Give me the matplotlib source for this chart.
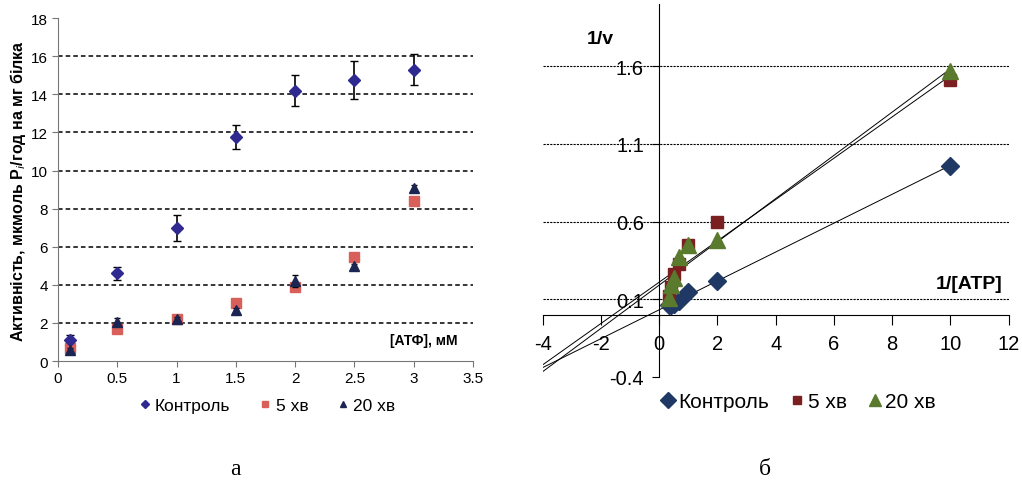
# -*- coding: utf-8 -*-
"""Активність АТФази: а - залежність від [АТФ], б - Лайнуївер-Берк"""
import numpy as np
import matplotlib
matplotlib.use('Agg')
import matplotlib.pyplot as plt
from matplotlib.lines import Line2D

plt.rcParams['font.family'] = ['Liberation Sans', 'DejaVu Sans']
plt.rcParams['axes.unicode_minus'] = False

# ---- а: активність від концентрації АТФ ----
atp = [0.1, 0.5, 1, 1.5, 2, 2.5, 3]
ctrl = [1.1, 4.6, 7.0, 11.75, 14.2, 14.75, 15.3]
ctrl_err = [0.25, 0.35, 0.68, 0.62, 0.8, 1.0, 0.8]
min5 = [0.7, 1.7, 2.2, 3.05, 3.9, 5.45, 8.4]
min20 = [0.6, 2.05, 2.2, 2.7, 4.2, 5.0, 9.1]
min20_err = [0.1, 0.2, 0.1, 0.1, 0.3, 0.1, 0.15]

# ---- б: подвійні обернені координати ----
inv_atp = [10, 2, 1, 0.667, 0.5, 0.4, 0.333]
inv_ctrl = [0.96, 0.22, 0.145, 0.09, 0.07, 0.065, 0.06]
inv_min5 = [1.51, 0.6, 0.45, 0.33, 0.26, 0.18, 0.12]
inv_min20 = [1.57, 0.48, 0.45, 0.37, 0.24, 0.19, 0.11]

labels = ['Контроль', '5 хв', '20 хв']

fig = plt.figure(figsize=(10.22, 4.89), dpi=100)

# ---------- графік а ----------
ax1 = fig.add_axes([0.0568, 0.2597, 0.406, 0.701])
c_ctrl, c_5, c_20 = '#2e2a8f', '#d9605a', '#1c2452'
for yv in range(2, 17, 2):
    ax1.axhline(yv, color='black', linestyle=(0, (3, 2)), linewidth=1.1, zorder=1)
ax1.errorbar(atp, ctrl, yerr=ctrl_err, fmt='D', color=c_ctrl, ms=6,
             ecolor='black', elinewidth=1.2, capsize=3, zorder=3)
ax1.plot(atp, min5, 's', color=c_5, ms=6.5, zorder=3)
ax1.errorbar(atp, min20, yerr=min20_err, fmt='^', color=c_20, ms=6.5,
             ecolor='black', elinewidth=1.0, capsize=2, zorder=4)
ax1.set_xlim(0, 3.5)
ax1.set_ylim(0, 18)
ax1.set_xticks(np.arange(0, 3.51, 0.5))
ax1.set_xticklabels(['0', '0.5', '1', '1.5', '2', '2.5', '3', '3.5'])
ax1.set_yticks(range(0, 19, 2))
ax1.tick_params(labelsize=11, length=4, color='#777777')
for s in ['top', 'right']:
    ax1.spines[s].set_visible(False)
for s in ['left', 'bottom']:
    ax1.spines[s].set_color('#777777')
ax1.set_ylabel('Активність, мкмоль P$_i$/год на мг білка', fontsize=11.5,
               fontweight='bold', labelpad=2)
ax1.text(3.37, 1.1, '[АТФ], мМ', ha='right', va='center', fontsize=10,
         fontweight='bold')

h1 = [Line2D([], [], marker='D', color=c_ctrl, ls='none', ms=4),
      Line2D([], [], marker='s', color=c_5, ls='none', ms=5),
      Line2D([], [], marker='^', color=c_20, ls='none', ms=5)]
fig.legend(h1, labels, loc='center', bbox_to_anchor=(0.26, 0.168), ncol=3,
           frameon=False, fontsize=12.5, handletextpad=0.1, columnspacing=1.5,
           handlelength=1.0)

# ---------- графік б ----------
ax2 = fig.add_axes([0.531, 0.227, 0.456, 0.763])
k_ctrl, k_5, k_20 = '#1f3864', '#7b2020', '#5a7a2e'
for yv in [0.1, 0.6, 1.1, 1.6]:
    ax2.axhline(yv, color='black', linestyle=(0, (2, 1)), linewidth=0.8, zorder=1)

# лінійні тренди, продовжені до x = -4
xs = np.array([-4, 10])
for yy in [inv_ctrl, inv_min5, inv_min20]:
    k, b = np.polyfit(inv_atp, yy, 1)
    ax2.plot(xs, k * xs + b, color='black', linewidth=0.7, zorder=2)

ax2.plot(inv_atp, inv_ctrl, 'D', color=k_ctrl, ms=9, zorder=3)
ax2.plot(inv_atp, inv_min5, 's', color=k_5, ms=9, zorder=3)
ax2.plot(inv_atp, inv_min20, '^', color=k_20, ms=11, zorder=4)

ax2.set_xlim(-4, 12)
ax2.set_ylim(-0.4, 2.0)
ax2.spines['left'].set_position(('data', 0))
ax2.spines['bottom'].set_position(('data', 0))
for s in ['top', 'right']:
    ax2.spines[s].set_visible(False)
ax2.set_xticks(range(-4, 13, 2))
ax2.set_yticks([-0.4, 0.1, 0.6, 1.1, 1.6])
ax2.set_yticklabels(['-0.4', '0.1', '0.6', '1.1', '1.6'])
ax2.tick_params(axis='x', labelsize=14.5, length=7, pad=7)
ax2.tick_params(axis='y', labelsize=14.5, length=5, pad=6)
ax2.text(-2.5, 1.78, '1/v', ha='left', va='center', fontsize=14,
         fontweight='bold')
ax2.text(11.8, 0.2, '1/[ATP]', ha='right', va='center', fontsize=14,
         fontweight='bold')

h2 = [Line2D([], [], marker='D', color=k_ctrl, ls='none', ms=8),
      Line2D([], [], marker='s', color=k_5, ls='none', ms=6),
      Line2D([], [], marker='^', color=k_20, ls='none', ms=9)]
fig.legend(h2, labels, loc='center', bbox_to_anchor=(0.78, 0.176), ncol=3,
           frameon=False, fontsize=15, handletextpad=0.05, columnspacing=0.9,
           handlelength=0.9)

# підписи панелей
fig.text(235 / 1022, 1 - 470 / 489, 'а', ha='center', va='center', fontsize=17,
         family=['Liberation Serif', 'DejaVu Serif'])
fig.text(765 / 1022, 1 - 470 / 489, 'б', ha='center', va='center', fontsize=17,
         family=['Liberation Serif', 'DejaVu Serif'])

fig.savefig('out.png', dpi=100)
